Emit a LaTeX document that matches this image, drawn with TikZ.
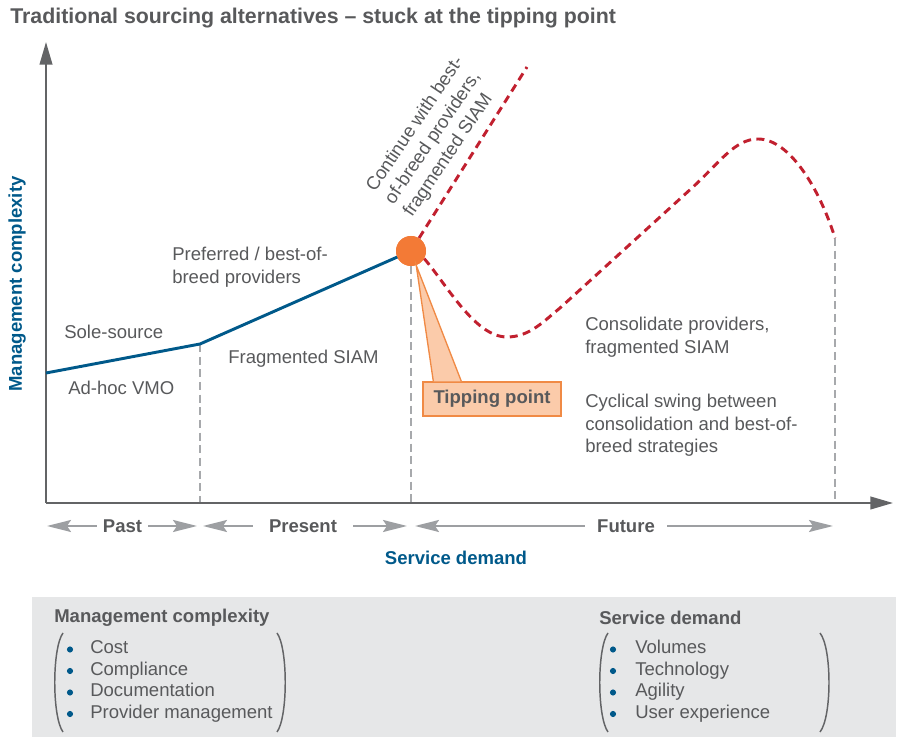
\documentclass[tikz,border=0pt]{standalone}
\usepackage{fontspec}
\setmainfont{Liberation Sans}
\usetikzlibrary{positioning,arrows.meta,calc}
\definecolor{txtgray}{HTML}{58595B}
\definecolor{axgray}{HTML}{636466}
\definecolor{dashgray}{HTML}{A7A9AC}
\definecolor{arrgray}{HTML}{9D9FA2}
\definecolor{navy}{HTML}{00598A}
\definecolor{tipor}{HTML}{F37A36}
\definecolor{tipedge}{HTML}{F08A45}
\definecolor{tipfill}{HTML}{FBCBAA}
\definecolor{redd}{HTML}{C1202F}
\definecolor{panel}{HTML}{E6E7E8}

\begin{document}
\begin{tikzpicture}[x=0.75pt,y=-0.75pt,
  lbl/.style={text=txtgray,font=\fontsize{13.9}{16.8}\selectfont,align=left,inner sep=0pt},
  bold/.style={text=txtgray,font=\fontsize{13.9}{17}\selectfont\bfseries,inner sep=0pt},
  axis/.style={draw=axgray,line width=1.5pt,-{Triangle[length=17pt,width=9.5pt]}},
  guide/.style={draw=dashgray,line width=2pt,dash pattern=on 6pt off 3.5pt},
  swing/.style={draw=redd,line width=2.2pt,dash pattern=on 6pt off 4pt},
  period/.style={draw=arrgray,line width=1.5pt,-{Stealth[length=18pt,width=9pt,inset=3pt]}}]
  \useasboundingbox (0,0) rectangle (901,737);

  \node[bold,anchor=west,font=\fontsize{16}{19}\selectfont\bfseries] (title) at (10,18)
    {Traditional sourcing alternatives – stuck at the tipping point};

  % axes and guides
  \coordinate (O) at (46,503); \coordinate (ytop) at (46,42); \coordinate (xend) at (893,503);
  \coordinate (ys) at (46,373); \coordinate (k1) at (200,344); \coordinate (e1) at (835,238);
  \coordinate (r1) at (527,67);
  \node[circle,fill=tipor,minimum size=22.5pt,inner sep=0pt] (tp) at (411,251) {};
  \draw[guide] (k1) -- (k1 |- O); \draw[guide] (tp.south) -- (tp |- O); \draw[guide] (e1) -- (e1 |- O);
  \draw[axis] (O) -- (ytop); \draw[axis] (O) -- (xend);

  % curves
  \draw[navy,line width=2.2pt] (ys) -- (k1) -- (tp.center);
  \draw[swing] (tp.58) -- (r1);
  \draw[swing] (tp.-30) .. controls (447,285) and (475,337) .. (507,337)
    .. controls (530,337) and (545,320) .. (560,308) -- (693,187)
    .. controls (720,162) and (735,139) .. (758,139)
    .. controls (790,139) and (820,190) .. (e1);
  \node[circle,fill=tipor,minimum size=22.5pt,inner sep=0pt] at (tp) {};

  % callout
  \node[bold,draw=tipedge,fill=tipfill,line width=1pt,minimum width=103.5pt,minimum height=25.5pt]
    (tipbox) at (492,399) {Tipping point};
  \filldraw[fill=tipfill,draw=tipedge,line width=1pt] ($(tipbox.north west)+(11,0)$) -- (tp.-70)
    -- ($(tipbox.north west)+(39,0)$);
  \fill[tipfill] ($(tipbox.north west)+(10,1.2)$) rectangle ($(tipbox.north west)+(40,4)$);

  % labels
  \node[lbl,anchor=west] (sole) at (64,332) {Sole-source};
  \node[lbl,anchor=west] (adhoc) at (68,388) {Ad-hoc VMO};
  \node[lbl,anchor=north west] (pref) at (172,247) {Preferred / best-of-\\breed providers};
  \node[lbl,anchor=base west] (frag) at (228,364) {Fragmented SIAM};
  \node[lbl,anchor=north west] (consol) at (585,317) {Consolidate providers,\\fragmented SIAM};
  \node[lbl,anchor=north west] (cycl) at (585,394) {Cyclical swing between\\consolidation and best-of-\\breed strategies};
  \node[lbl,rotate=56] (cont) at (434,137) {Continue with best-\\of-breed providers,\\fragmented SIAM};

  % periods
  \coordinate (pL) at (47,526); \coordinate (pR) at (197,526);
  \coordinate (prL) at (203,526); \coordinate (prR) at (407,526);
  \coordinate (fL) at (415,526); \coordinate (fR) at (833,526);
  \node[bold,inner xsep=4.5pt] (past) at (122.5,526) {Past};
  \node[bold,inner xsep=12pt] (present) at (303,526) {Present};
  \node[bold,inner xsep=9pt] (future) at (626,526) {Future};
  \draw[period] (past.west) -- (pL); \draw[period] (past.east) -- (pR);
  \draw[period] (present.west) -- (prL); \draw[period] (present.east) -- (prR);
  \draw[period] (future.west) -- (fL); \draw[period] (future.east) -- (fR);
  \node[bold,text=navy] (sd) at (456,558) {Service demand};
  \node[bold,text=navy,rotate=90] (mc) at (17,284) {Management complexity};

  % legend panel
  \fill[panel] (32,597) rectangle (896,737);
  \node[bold,anchor=west] (mch) at (54,618) {Management complexity};
  \node[bold,anchor=west] (sdh) at (599,618) {Service demand};
  \foreach \t [count=\i] in {Cost,Compliance,Documentation,Provider management} {
    \fill[navy] (70,628+\i*21.5) circle (2.3pt);
    \node[lbl,anchor=base west] (m\i) at (90,632.5+\i*21.5) {\t};
  }
  \foreach \t [count=\i] in {Volumes,Technology,Agility,User experience} {
    \fill[navy] (613,628+\i*21.5) circle (2.3pt);
    \node[lbl,anchor=base west] (s\i) at (635,632.5+\i*21.5) {\t};
  }
  \foreach \a/\b in {63/52,608/597} \draw[axgray,line width=1.1pt] (\a,633) .. controls (\b,648) and (\b,717) .. (\a,732);
  \foreach \a/\b in {277/288,820/832} \draw[axgray,line width=1.1pt] (\a,633) .. controls (\b,648) and (\b,717) .. (\a,732);
\end{tikzpicture}
\end{document}
